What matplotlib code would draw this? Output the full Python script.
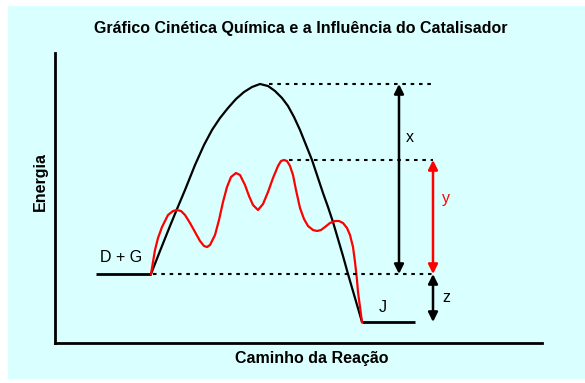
import matplotlib
matplotlib.use("Agg")
import matplotlib.pyplot as plt
from matplotlib.patches import Rectangle

plt.rcParams['font.family'] = ['Liberation Sans', 'DejaVu Sans']

# ---- data (x: reaction path units, y: energy units) ----
level_reactants = 69
level_products = 21
peak_uncat = 259
peak_cat = 183

uncat_x = [96, 105, 115, 122, 130, 140, 149, 157, 165, 173, 181, 189, 197, 205,
           213, 220, 227, 233, 239, 245, 251, 257, 263, 268, 273, 278, 283, 288,
           293, 300, 307]
uncat_y = [69, 92, 117, 134, 153, 178, 198, 213, 225, 235, 244, 251, 256, 259,
           257, 252, 245, 237, 226, 213, 198, 183, 165, 150, 136, 121, 104, 87,
           69, 45, 21]

cat_x = [96, 98, 100, 103, 107, 113, 118, 122, 126, 130, 135, 140, 145, 149,
         152, 155, 160, 164, 168, 172, 176, 181, 185, 190, 194, 198, 203, 208,
         213, 218, 223, 226, 229, 232, 235, 238, 241, 245, 249, 253, 258, 262,
         266, 270, 275, 280, 284, 288, 292, 295, 298, 300, 302, 303, 305, 307]
cat_y = [69, 81, 93, 105, 116, 128, 132, 133, 132, 128, 120, 111, 102, 97,
         96, 98, 108, 123, 141, 156, 166, 170, 168, 158, 147, 138, 133, 139,
         151, 165, 177, 182, 183, 182, 177, 168, 153, 135, 124, 117, 113, 112,
         113, 116, 120, 122, 122, 120, 115, 108, 96, 81, 63, 51, 36, 21]

react_plateau_x = [41, 96]
prod_plateau_x = [307, 360]

labels = {"reactants": "D + G", "products": "J", "x": "x", "y": "y", "z": "z"}
title = "Gráfico Cinética Química e a Influência do Catalisador"
xlabel = "Caminho da Reação"
ylabel = "Energia"

# ---- figure ----
W, H = 585, 383
fig = plt.figure(figsize=(W / 100, H / 100), dpi=100)
fig.patch.set_facecolor('white')
cyan = '#D9FFFF'
fig.patches.append(Rectangle((8 / W, (H - 379) / H), (W - 8) / W, (379 - 6) / H,
                             transform=fig.transFigure, facecolor=cyan,
                             edgecolor='none', zorder=-10))

ax_left, ax_right, ax_top, ax_bot = 55, 542, 53, 343
ax = fig.add_axes([ax_left / W, (H - ax_bot) / H, (ax_right - ax_left) / W,
                   (ax_bot - ax_top) / H])
ax.set_facecolor('none')
ax.set_xlim(0, ax_right - ax_left)
ax.set_ylim(0, ax_bot - ax_top)
for s in ['top', 'right']:
    ax.spines[s].set_visible(False)
for s in ['left', 'bottom']:
    ax.spines[s].set_linewidth(2.0)
    ax.spines[s].set_color('black')
ax.set_xticks([])
ax.set_yticks([])

lw = 1.6
# plateaus
ax.plot(react_plateau_x, [level_reactants] * 2, color='black', lw=2.0,
        solid_capstyle='butt')
ax.plot(prod_plateau_x, [level_products] * 2, color='black', lw=2.0,
        solid_capstyle='butt')

# curves
ax.plot(uncat_x, uncat_y, color='black', lw=lw, solid_joinstyle='round')
ax.plot(cat_x, cat_y, color='#FF0000', lw=lw, solid_joinstyle='round')

# dotted reference lines
dash = dict(color='black', lw=1.5, linestyle=(0, (1.7, 2.3)))
ax.plot([214, 378], [peak_uncat] * 2, **dash)
ax.plot([234, 378], [peak_cat] * 2, **dash)
ax.plot([98, 380], [level_reactants] * 2, **dash)

# arrows
def darrow(x, y0, y1, color):
    ax.annotate('', xy=(x, y1), xytext=(x, y0),
                arrowprops=dict(arrowstyle='<|-|>', color=color, lw=1.8,
                                mutation_scale=14, shrinkA=0, shrinkB=0))

darrow(344, level_reactants, peak_uncat, 'black')
darrow(378, level_reactants, peak_cat, '#FF0000')
darrow(378, level_products, level_reactants, 'black')

fs = 11.5
ax.text(355, 205, labels["x"], fontsize=fs, ha='center', va='center', color='black')
ax.text(391, 145, labels["y"], fontsize=fs, ha='center', va='center', color='#FF0000')
ax.text(391, 45, labels["z"], fontsize=fs, ha='center', va='center', color='black')
ax.text(66, 85, labels["reactants"], fontsize=fs, ha='center', va='center')
ax.text(328, 36, labels["products"], fontsize=fs, ha='center', va='center')

tfs = 11.5
fig.text(301 / W, 1 - 29 / H, title, fontsize=tfs, fontweight='bold',
         ha='center', va='center')
fig.text(312 / W, 1 - 359 / H, xlabel, fontsize=tfs, fontweight='bold',
         ha='center', va='center')
fig.text(40 / W, 1 - 182 / H, ylabel, fontsize=tfs, fontweight='bold',
         ha='center', va='center', rotation=90)

fig.savefig('out.png', dpi=100, facecolor=fig.get_facecolor())
